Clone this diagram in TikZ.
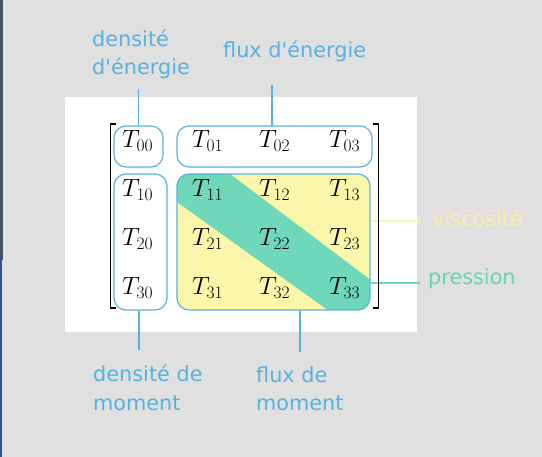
\documentclass[tikz,border=0pt]{standalone}
\usepackage{fontspec}
\usepackage{fix-cm}
\newfontfamily\lblfont{DejaVu Sans}
\definecolor{bgc}{RGB}{224,224,224}
\definecolor{skyb}{RGB}{88,178,222}
\definecolor{yelf}{RGB}{251,247,170}
\definecolor{yelt}{RGB}{246,241,165}
\definecolor{grnf}{RGB}{110,216,184}
\definecolor{grnt}{RGB}{104,212,178}
\definecolor{stripa}{RGB}{72,80,100}
\definecolor{stripb}{RGB}{42,82,160}
\tikzset{
  lbl/.style={inner sep=0pt, text=skyb, font=\lblfont\fontsize{20.8}{28.5}\selectfont, align=left},
  ent/.style={inner sep=0pt, anchor=base west, font=\fontsize{25}{29}\selectfont},
  grp/.style={draw=skyb, line width=1.2pt, rounded corners=12pt, inner sep=0pt},
  conn/.style={draw=skyb, line width=1.5pt},
  brk/.style={draw=black, line width=1.6pt},
}
\begin{document}
\begin{tikzpicture}[x=1pt,y=-1pt]
\useasboundingbox (0,0) rectangle (542,457);
\fill[bgc] (0,0) rectangle (542,457);
\fill[stripa] (0,0) rectangle (2.5,260);
\fill[stripb] (0,260) rectangle (2,457);
\fill[white] (65,97) rectangle (417,332);
% coloured block
\begin{scope}
  \clip[rounded corners=12pt] (177,174) rectangle (370,310);
  \fill[yelf] (177,174) rectangle (370,310);
  \fill[grnf] (170,174) -- (230,174) -- (376,284) -- (376,316) -- (336,316) -- (170,197) -- cycle;
\end{scope}
% group boxes
\node[grp, minimum width=49pt, minimum height=41pt] (b00) at (138.5,146.5) {};
\node[grp, minimum width=195pt, minimum height=41pt] (brow) at (274.5,146.5) {};
\node[grp, minimum width=53pt, minimum height=136pt] (bcol) at (140.5,242) {};
\node[grp, minimum width=193pt, minimum height=136pt] (bbig) at (273.5,242) {};
% entries
\node[ent] (t00) at (122,148) {$T_{00}$};
\node[ent] (t01) at (192,148) {$T_{01}$};
\node[ent] (t02) at (259,148) {$T_{02}$};
\node[ent] (t03) at (329,148) {$T_{03}$};
\node[ent] (t10) at (122,197) {$T_{10}$};
\node[ent] (t11) at (192,197) {$T_{11}$};
\node[ent] (t12) at (259,197) {$T_{12}$};
\node[ent] (t13) at (329,197) {$T_{13}$};
\node[ent] (t20) at (122,246) {$T_{20}$};
\node[ent] (t21) at (192,246) {$T_{21}$};
\node[ent] (t22) at (259,246) {$T_{22}$};
\node[ent] (t23) at (329,246) {$T_{23}$};
\node[ent] (t30) at (122,295) {$T_{30}$};
\node[ent] (t31) at (192,295) {$T_{31}$};
\node[ent] (t32) at (259,295) {$T_{32}$};
\node[ent] (t33) at (329,295) {$T_{33}$};
% labels
\node[lbl, anchor=north west] (ldens) at (92,29.5) {densité\\d'énergie};
\node[lbl, anchor=base west] (lflux) at (223,58) {flux d'énergie};
\node[lbl, anchor=north west] (ldm) at (93,365) {densité de\\moment};
\node[lbl, anchor=north west] (lfm) at (256,366) {flux de\\moment};
\node[lbl, anchor=base west, text=yelt] (lvis) at (432,227) {viscosité};
\node[lbl, anchor=base west, text=grnt] (lpre) at (428,285) {pression};
% connector ends
\coordinate (cdens) at (138.5,89);
\coordinate (cflux) at (272,85);
\coordinate (cdm) at (139,350);
\coordinate (cfm) at (300,352);
\coordinate (cvis) at (420,221);
\coordinate (cpre) at (420,283);
% connectors
\draw[conn] (b00.north) -- (cdens);
\draw[conn] (brow.north -| cflux) -- (cflux);
\draw[conn] (bcol.south -| cdm) -- (cdm);
\draw[conn] (bbig.south -| cfm) -- (cfm);
\draw[draw=yelf, line width=1.5pt] (bbig.east |- cvis) -- (cvis);
\draw[draw=grnf, line width=1.5pt] (bbig.east |- cpre) -- (cpre);
% brackets
\draw[brk] (116,124) -- (110.5,124) -- (110.5,308) -- (116,308);
\draw[brk] (373,124) -- (378.5,124) -- (378.5,308) -- (373,308);
\end{tikzpicture}
\end{document}
